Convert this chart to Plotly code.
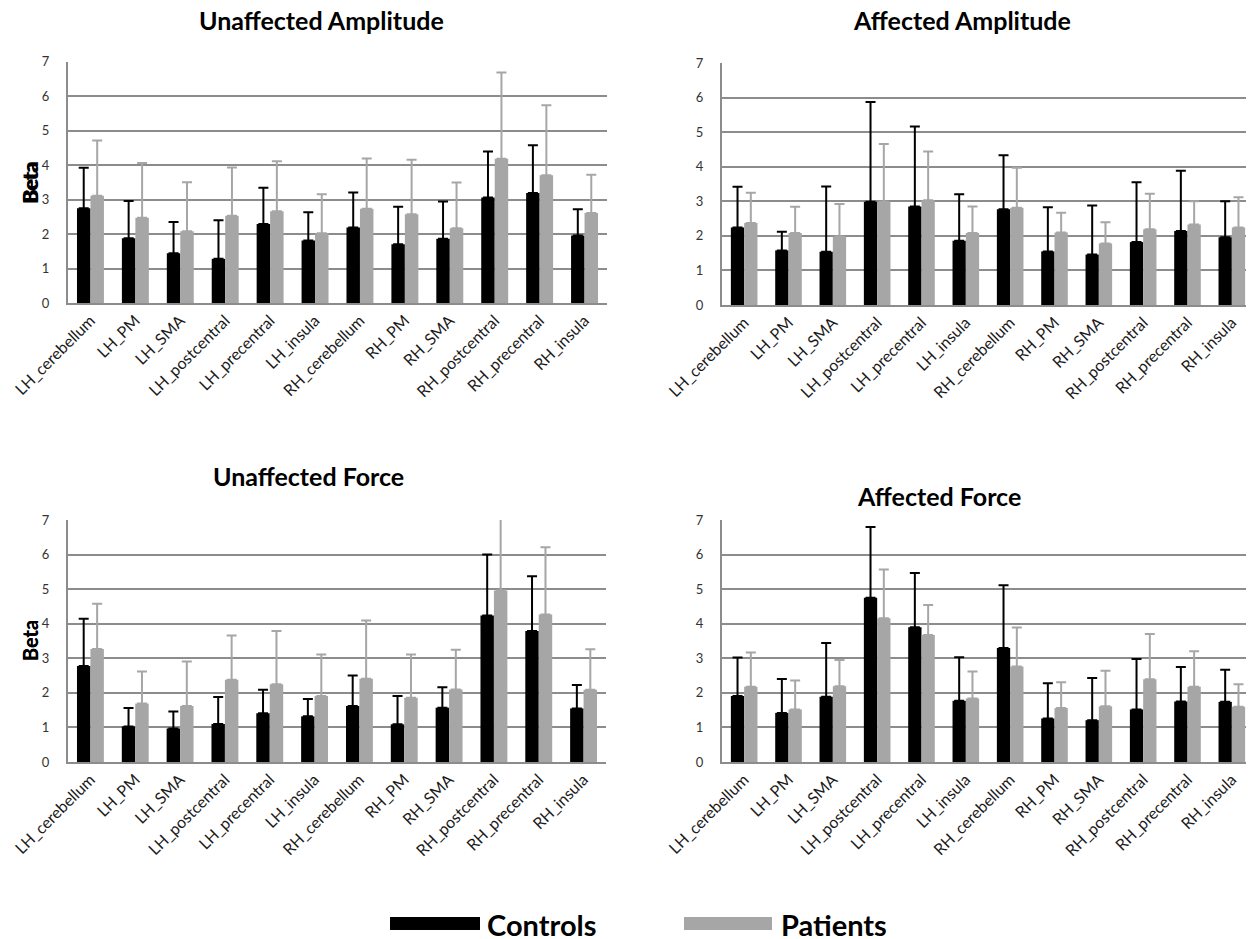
import plotly.graph_objects as go

W, H = 1254, 939
OFF = 8  # page body margin offset in px

regions = ["LH_cerebellum", "LH_PM", "LH_SMA", "LH_postcentral", "LH_precentral", "LH_insula",
           "RH_cerebellum", "RH_PM", "RH_SMA", "RH_postcentral", "RH_precentral", "RH_insula"]
y_ticks = [0, 1, 2, 3, 4, 5, 6, 7]

# Unaffected Amplitude
ua_controls = [2.75, 1.88, 1.44, 1.28, 2.29, 1.81, 2.19, 1.70, 1.86, 3.06, 3.19, 1.96]
ua_controls_sd = [1.17, 1.08, 0.91, 1.12, 1.05, 0.82, 1.01, 1.09, 1.08, 1.33, 1.38, 0.76]
ua_patients = [3.11, 2.47, 2.08, 2.53, 2.66, 2.02, 2.73, 2.57, 2.17, 4.18, 3.70, 2.61]
ua_patients_sd = [1.60, 1.59, 1.42, 1.40, 1.45, 1.13, 1.46, 1.58, 1.32, 2.50, 2.03, 1.11]

# Affected Amplitude
aa_controls = [2.24, 1.58, 1.54, 2.99, 2.85, 1.86, 2.77, 1.55, 1.46, 1.82, 2.14, 1.96]
aa_controls_sd = [1.18, 0.54, 1.89, 2.88, 2.31, 1.34, 1.56, 1.28, 1.42, 1.73, 1.74, 1.04]
aa_patients = [2.37, 2.08, 1.98, 2.99, 3.03, 2.08, 2.81, 2.10, 1.78, 2.19, 2.33, 2.24]
aa_patients_sd = [0.88, 0.76, 0.94, 1.67, 1.41, 0.77, 1.16, 0.57, 0.61, 1.03, 0.67, 0.88]

# Unaffected Force
uf_controls = [2.78, 1.03, 0.97, 1.10, 1.41, 1.32, 1.62, 1.09, 1.57, 4.24, 3.79, 1.55]
uf_controls_sd = [1.36, 0.53, 0.49, 0.78, 0.68, 0.50, 0.88, 0.82, 0.59, 1.76, 1.58, 0.68]
uf_patients = [3.27, 1.69, 1.62, 2.38, 2.25, 1.91, 2.41, 1.86, 2.10, 4.96, 4.27, 2.09]
uf_patients_sd = [1.31, 0.93, 1.29, 1.28, 1.54, 1.20, 1.68, 1.25, 1.15, 2.34, 1.94, 1.17]

# Affected Force
af_controls = [1.91, 1.42, 1.89, 4.75, 3.90, 1.77, 3.30, 1.26, 1.21, 1.52, 1.75, 1.74]
af_controls_sd = [1.11, 0.98, 1.55, 2.05, 1.57, 1.26, 1.81, 1.02, 1.22, 1.46, 1.00, 0.93]
af_patients = [2.18, 1.52, 2.19, 4.16, 3.67, 1.84, 2.76, 1.56, 1.61, 2.39, 2.18, 1.60]
af_patients_sd = [0.99, 0.84, 0.76, 1.41, 0.87, 0.78, 1.13, 0.75, 1.03, 1.31, 1.02, 0.65]

CTRL = "#000000"
PAT = "#a6a6a6"
GRID = "#8c8c8c"
FONT = "Lato"


def px(x):
    return (x - OFF) / W


def py(y):
    return 1 - (y - OFF) / H


# panels: (title, controls, ctrl_sd, patients, pat_sd, x0,x1,ytop,ybot (screen px), title_x, title_y)
panels = [
    ("Unaffected Amplitude", ua_controls, ua_controls_sd, ua_patients, ua_patients_sd, 68, 607, 61.5, 303, 321, 20),
    ("Affected Amplitude", aa_controls, aa_controls_sd, aa_patients, aa_patients_sd, 722, 1254, 63, 305, 962, 20),
    ("Unaffected Force", uf_controls, uf_controls_sd, uf_patients, uf_patients_sd, 68, 606, 520, 762, 308, 476),
    ("Affected Force", af_controls, af_controls_sd, af_patients, af_patients_sd, 722, 1254, 520, 762, 939, 496),
]

fig = go.Figure()
annotations = []
shapes = []

for i, (title, c, csd, p, psd, x0, x1, yt, yb, tx, ty) in enumerate(panels, start=1):
    xa = "x" if i == 1 else f"x{i}"
    ya = "y" if i == 1 else f"y{i}"
    fig.add_trace(go.Bar(
        x=regions, y=c, name="Controls", marker=dict(color=CTRL, line=dict(width=0)),
        error_y=dict(type="data", array=csd, arrayminus=[0] * len(csd), symmetric=False,
                     color=CTRL, thickness=2, width=5),
        xaxis=xa, yaxis=ya, showlegend=False))
    fig.add_trace(go.Bar(
        x=regions, y=p, name="Patients", marker=dict(color=PAT, line=dict(width=0)),
        error_y=dict(type="data", array=psd, arrayminus=[0] * len(psd), symmetric=False,
                     color=PAT, thickness=2, width=5),
        xaxis=xa, yaxis=ya, showlegend=False))
    xkey = "xaxis" if i == 1 else f"xaxis{i}"
    ykey = "yaxis" if i == 1 else f"yaxis{i}"
    fig.update_layout(**{
        xkey: dict(domain=[px(x0), min(px(x1), 1.0)], anchor=ya, type="category", automargin=False,
                   showgrid=False, showline=True, linecolor=GRID, linewidth=2,
                   ticks="", tickangle=-45, tickfont=dict(family=FONT, size=16, color="#1a1a1a")),
        ykey: dict(domain=[py(yb), py(yt)], anchor=xa, range=[0, 7], tickvals=y_ticks,
                   automargin=False,
                   showgrid=True, gridcolor=GRID, gridwidth=2, zeroline=False,
                   showline=True, linecolor=GRID, linewidth=2, ticks="",
                   ticklabelstandoff=14,
                   tickfont=dict(family=FONT, size=13, color="#333333")),
    })
    annotations.append(dict(text=f"<b>{title}</b>", x=px(tx), y=py(ty), xref="paper", yref="paper",
                            showarrow=False, xanchor="center", yanchor="middle",
                            font=dict(family=FONT, size=25, color="#000000")))
    annotations.append(dict(text="<b>Beta</b>", x=px(30), y=py((yt + yb) / 2), xref="paper", yref="paper",
                            showarrow=False, textangle=-90, xanchor="center", yanchor="middle",
                            font=dict(family=FONT, size=20, color="#000000")))

# custom legend
for (label, color, rx0, rx1, txt_x) in [("Controls", CTRL, 390, 480, 485), ("Patients", PAT, 684, 772, 779)]:
    shapes.append(dict(type="rect", xref="paper", yref="paper", x0=px(rx0), x1=px(rx1),
                       y0=py(930), y1=py(917), fillcolor=color, line=dict(width=0)))
    annotations.append(dict(text=f"<b>{label}</b>", x=px(txt_x), y=py(924), xref="paper", yref="paper",
                            showarrow=False, xanchor="left", yanchor="middle",
                            font=dict(family=FONT, size=29, color="#000000")))

fig.update_layout(
    width=W, height=H, margin=dict(l=0, r=0, t=0, b=0, pad=0, autoexpand=False),
    barmode="group", bargap=0.4, bargroupgap=0,
    plot_bgcolor="white", paper_bgcolor="white",
    annotations=annotations, shapes=shapes, showlegend=False,
)

fig.write_html("out.html")
